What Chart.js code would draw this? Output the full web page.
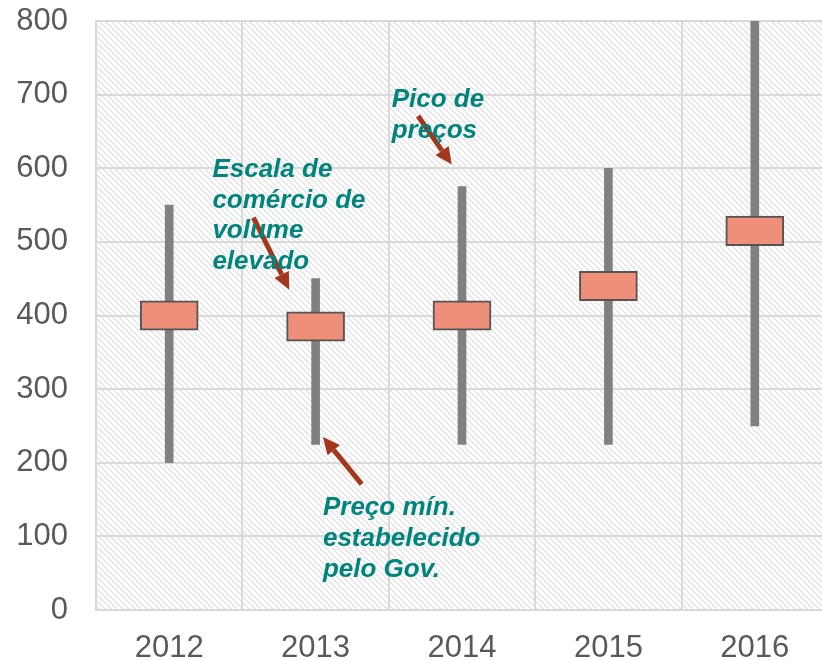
<!DOCTYPE html>
<html lang="pt">
<head>
  <meta charset="UTF-8">
  <title>Preços 2012-2016</title>
  <style>
    * { margin: 0; padding: 0; box-sizing: border-box; }
    html, body { width: 822px; height: 660px; overflow: hidden; background: #fff; }
    .wrap { width: 828px; height: 660px; position: relative; }
  </style>
</head>
<body>
<div class="wrap">
  <canvas id="priceChart" width="828" height="660"></canvas>
</div>

<script src="https://cdn.jsdelivr.net/npm/chart.js"></script>
<script>
  // data
  const years = ['2012', '2013', '2014', '2015', '2016'];
  const rangeLow = [200, 225, 225, 225, 250];
  const rangeHigh = [550, 450, 575, 600, 800];
  const boxLow = [380, 365, 380, 420, 495];
  const boxHigh = [420, 405, 420, 460, 535];
  const yTicks = [0, 100, 200, 300, 400, 500, 600, 700, 800];

  const textColor = '#595959';
  const gridColor = '#d9d9d9';
  const noteColor = '#00847e';
  const arrowColor = '#a3361b';
  const fontFamily = '"Liberation Sans", Arial, sans-serif';

  // notes placed in data units: u = category index, v = axis value
  const notes = [
    { lines: ['Pico de', 'preços'], u: 1.52, v: 683, step: 42 },
    { lines: ['Escala de', 'comércio de', 'volume', 'elevado'], u: 0.295, v: 588, step: 41.5 },
    { lines: ['Preço mín.', 'estabelecido', 'pelo Gov.'], u: 1.05, v: 129, step: 42 }
  ];
  const arrows = [
    { from: [1.70, 671], to: [1.93, 605] },
    { from: [0.575, 533], to: [0.82, 435] },
    { from: [1.315, 171], to: [1.05, 235] }
  ];

  // diagonal hatch for the plot background
  function makeHatch() {
    const c = document.createElement('canvas');
    c.width = 6; c.height = 6;
    const g = c.getContext('2d');
    g.strokeStyle = '#e4e4e4';
    g.lineWidth = 1.5;
    g.beginPath();
    g.moveTo(-1, -1); g.lineTo(7, 7);
    g.moveTo(-1, 5); g.lineTo(1, 7);
    g.moveTo(5, -1); g.lineTo(7, 1);
    g.stroke();
    return g.createPattern(c, 'repeat');
  }

  const hatchPlugin = {
    id: 'hatch',
    beforeDraw(chart) {
      const { ctx, chartArea: a } = chart;
      ctx.save();
      ctx.fillStyle = makeHatch();
      ctx.fillRect(a.left, a.top, a.right - a.left, a.bottom - a.top);
      ctx.restore();
    }
  };

  const notesPlugin = {
    id: 'notes',
    afterDatasetsDraw(chart) {
      const { ctx } = chart;
      const xs = chart.scales.x, ys = chart.scales.y;
      const step = xs.getPixelForValue(1) - xs.getPixelForValue(0);
      const px = u => xs.getPixelForValue(0) + u * step;
      const py = v => ys.getPixelForValue(v);

      ctx.save();
      // arrows
      ctx.strokeStyle = arrowColor;
      ctx.fillStyle = arrowColor;
      ctx.lineWidth = 5;
      arrows.forEach(a => {
        const x1 = px(a.from[0]), y1 = py(a.from[1]);
        const x2 = px(a.to[0]), y2 = py(a.to[1]);
        const ang = Math.atan2(y2 - y1, x2 - x1);
        const head = 17, half = 8;
        const bx = x2 - head * Math.cos(ang), by = y2 - head * Math.sin(ang);
        ctx.beginPath();
        ctx.moveTo(x1, y1);
        ctx.lineTo(bx, by);
        ctx.stroke();
        ctx.beginPath();
        ctx.moveTo(x2, y2);
        ctx.lineTo(bx + half * Math.sin(ang), by - half * Math.cos(ang));
        ctx.lineTo(bx - half * Math.sin(ang), by + half * Math.cos(ang));
        ctx.closePath();
        ctx.fill();
      });

      // text
      ctx.fillStyle = noteColor;
      ctx.font = 'italic bold 26px ' + fontFamily;
      ctx.textAlign = 'left';
      ctx.textBaseline = 'alphabetic';
      notes.forEach(n => {
        n.lines.forEach((t, i) => {
          ctx.fillText(t, px(n.u), py(n.v - i * n.step));
        });
      });
      ctx.restore();
    }
  };

  new Chart(document.getElementById('priceChart'), {
    type: 'bar',
    data: {
      labels: years,
      datasets: [
        {
          label: 'Faixa central',
          data: boxLow.map((v, i) => [v, boxHigh[i]]),
          backgroundColor: '#ef8f79',
          borderColor: '#555555',
          borderWidth: 2,
          borderSkipped: false,
          barThickness: 58,
          grouped: false
        },
        {
          label: 'Mín - Máx',
          data: rangeLow.map((v, i) => [v, rangeHigh[i]]),
          backgroundColor: '#808080',
          borderWidth: 0,
          barThickness: 8,
          grouped: false
        }
      ]
    },
    options: {
      responsive: false,
      animation: false,
      layout: { padding: 0 },
      plugins: {
        legend: { display: false },
        tooltip: { enabled: false }
      },
      scales: {
        x: {
          grid: { color: gridColor, lineWidth: 2, drawTicks: false, offset: true },
          border: { color: gridColor, width: 2 },
          ticks: {
            color: textColor,
            padding: 20,
            font: { family: fontFamily, size: 31 }
          },
          afterFit(s) { s.height = 50; s.paddingLeft = 0; s.paddingRight = 0; }
        },
        y: {
          min: 0,
          max: 800,
          afterBuildTicks(s) { s.ticks = yTicks.map(v => ({ value: v })); },
          grid: { color: gridColor, lineWidth: 2, drawTicks: false },
          border: { color: gridColor, width: 2 },
          ticks: {
            color: textColor,
            padding: 28,
            font: { family: fontFamily, size: 31 }
          },
          afterFit(s) { s.width = 96; s.paddingTop = 21; s.paddingBottom = 0; }
        }
      }
    },
    plugins: [hatchPlugin, notesPlugin]
  });
</script>
</body>
</html>
